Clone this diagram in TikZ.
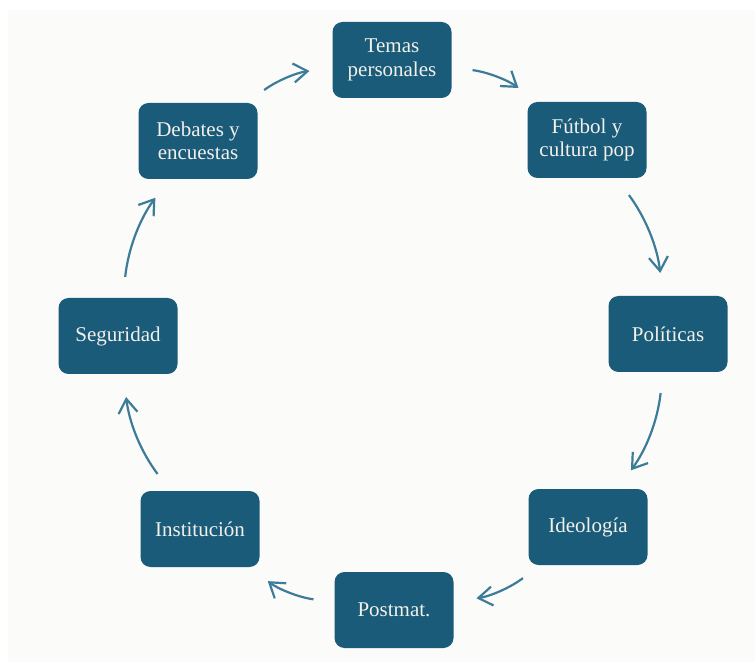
\documentclass[tikz,border=0pt]{standalone}
\usepackage{fontspec}
\setmainfont{Liberation Serif}
\usetikzlibrary{arrows.meta}

\newlength{\du}
\setlength{\du}{1pt}

\definecolor{boxblue}{HTML}{1A5B7A}
\definecolor{arrowblue}{HTML}{3C7C98}
\definecolor{boxtext}{HTML}{F2F0EA}
\definecolor{paper}{HTML}{FBFBF9}

\tikzset{
  topicbox/.style={draw=none, fill=boxblue, text=boxtext, rounded corners=10\du,
    minimum width=119\du, minimum height=76\du, align=center, inner sep=2\du,
    font=\fontsize{21}{23.5}\selectfont},
  cyclearrow/.style={draw=arrowblue, line width=2.2\du,
    -{Straight Barb[length=14pt,width=19pt]},
    bend left=15, shorten <=21\du, shorten >=23\du}
}

\begin{document}
\begin{tikzpicture}
\useasboundingbox (0\du,0\du) rectangle (755\du,662\du);
\fill[white] (0\du,0\du) rectangle (755\du,662\du);
\fill[paper] (8\du,0\du) rectangle (755\du,652\du);

% topics round the circle
\node[topicbox] (temas) at (392\du,602\du) {Temas\\personales};
\node[topicbox] (futbol) at (587\du,522\du) {Fútbol y\\cultura pop};
\node[topicbox] (politicas) at (668\du,328\du) {Políticas};
\node[topicbox] (ideologia) at (588\du,135\du) {Ideología};
\node[topicbox] (postmat) at (394\du,52\du) {Postmat.};
\node[topicbox] (institucion) at (200\du,133\du) {Institución};
\node[topicbox] (seguridad) at (118\du,326\du) {Seguridad};
\node[topicbox] (debates) at (198\du,521\du) {Debates y\\encuestas};

% clockwise arrows
\draw[cyclearrow] (temas) to (futbol);
\draw[cyclearrow] (futbol) to (politicas);
\draw[cyclearrow] (politicas) to (ideologia);
\draw[cyclearrow] (ideologia) to (postmat);
\draw[cyclearrow] (postmat) to (institucion);
\draw[cyclearrow] (institucion) to (seguridad);
\draw[cyclearrow] (seguridad) to (debates);
\draw[cyclearrow] (debates) to (temas);
\end{tikzpicture}
\end{document}
